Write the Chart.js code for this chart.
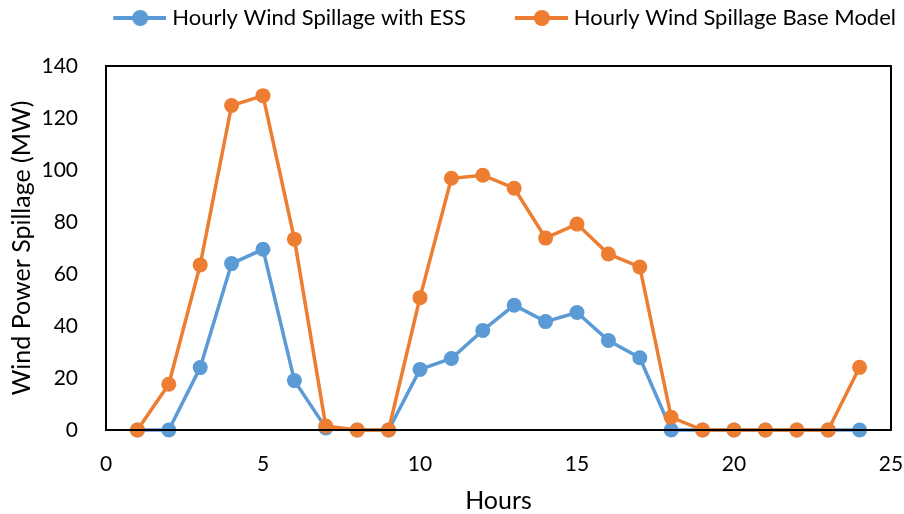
<!DOCTYPE html>
<html>
<head>
<meta charset="utf-8">
<script src="https://cdn.jsdelivr.net/npm/chart.js@4.4.1/dist/chart.umd.min.js"></script>
<style>
  html, body { margin: 0; padding: 0; background: #fff; }
  #wrap { width: 904px; height: 514px; }
</style>
</head>
<body>
<div id="wrap"><canvas id="spill-chart" width="904" height="514"></canvas></div>
<script>
const hours = [1, 2, 3, 4, 5, 6, 7, 8, 9, 10, 11, 12, 13, 14, 15, 16, 17, 18, 19, 20, 21, 22, 23, 24];
const withEss = [0, 0, 24, 64, 69.5, 19, 0.8, 0, 0, 23.3, 27.5, 38.3, 48, 41.7, 45.2, 34.4, 27.8, 0, 0, 0, 0, 0, 0, 0];
const baseModel = [0, 17.6, 63.5, 124.8, 128.6, 73.4, 1.5, 0, 0, 50.9, 96.8, 98, 93, 73.8, 79.2, 67.7, 62.7, 4.9, 0, 0, 0, 0, 0, 24.1];
const xTicks = [0, 5, 10, 15, 20, 25];
const yTicks = [0, 20, 40, 60, 80, 100, 120, 140];

const BLUE = '#5B9BD5';
const ORANGE = '#ED7D31';
const FONT = 'Lato';
const LEGEND_SIZE = 22;
const BOX = 90;

// legend swatch: line with a dot, sitting at the right end of the box so the
// text follows closely and the gap before the next entry stays wide
function swatch(color) {
    var c = document.createElement('canvas');
    c.width = BOX + 10;
    c.height = 20;
    var ctx = c.getContext('2d');
    var x1 = c.width - 53;
    ctx.strokeStyle = color;
    ctx.lineWidth = 4;
    ctx.beginPath();
    ctx.moveTo(x1, 10);
    ctx.lineTo(c.width, 10);
    ctx.stroke();
    ctx.fillStyle = color;
    ctx.beginPath();
    ctx.arc(x1 + 27, 10, 8, 0, Math.PI * 2);
    ctx.fill();
    return c;
}

const frame = {
    id: 'frame',
    beforeLayout(chart) {
        // leave room between legend and plot like the original
        const lg = chart.legend;
        if (lg && !lg._padded) {
            const fit = lg.fit;
            lg.fit = function () { fit.call(this); this.height += 27; };
            lg._padded = true;
        }
    },
    afterDatasetsDraw(chart) {
        const a = chart.chartArea;
        const ctx = chart.ctx;
        ctx.save();
        ctx.strokeStyle = '#000';
        ctx.lineWidth = 2;
        ctx.strokeRect(a.left, a.top, a.right - a.left, a.bottom - a.top);
        ctx.restore();
    }
};

function series(values) {
    return hours.map((h, i) => ({ x: h, y: values[i] }));
}

new Chart(document.getElementById('spill-chart').getContext('2d'), {
    type: 'line',
    data: {
        datasets: [{
            label: 'Hourly Wind Spillage with ESS',
            data: series(withEss),
            borderColor: BLUE,
            backgroundColor: BLUE,
            borderWidth: 3.5,
            pointRadius: 7.5,
            pointHoverRadius: 7.5,
            pointBorderWidth: 0,
            tension: 0,
            clip: false,
            order: 1
        }, {
            label: 'Hourly Wind Spillage Base Model',
            data: series(baseModel),
            borderColor: ORANGE,
            backgroundColor: ORANGE,
            borderWidth: 3.5,
            pointRadius: 7.5,
            pointHoverRadius: 7.5,
            pointBorderWidth: 0,
            tension: 0,
            clip: false,
            order: 0
        }]
    },
    options: {
        responsive: false,
        animation: false,
        layout: { padding: { left: 3, right: 1, top: 0, bottom: 0 } },
        plugins: {
            tooltip: { enabled: false },
            legend: {
                position: 'top',
                align: 'end',
                labels: {
                    color: '#000',
                    font: { family: FONT, size: LEGEND_SIZE },
                    usePointStyle: true,
                    pointStyleWidth: BOX,
                    padding: 7,
                    generateLabels(chart) {
                        return chart.data.datasets.map((ds, i) => ({
                            text: ds.label,
                            fillStyle: ds.borderColor,
                            strokeStyle: ds.borderColor,
                            pointStyle: swatch(ds.borderColor),
                            lineWidth: 0,
                            datasetIndex: i,
                            fontColor: '#000'
                        }));
                    }
                }
            }
        },
        scales: {
            x: {
                type: 'linear',
                min: 0,
                max: 25,
                afterBuildTicks: s => { s.ticks = xTicks.map(v => ({ value: v })); },
                grid: { display: false },
                border: { display: false },
                ticks: { color: '#000', font: { family: FONT, size: 21 }, padding: 14 },
                title: { display: true, text: 'Hours', color: '#000', font: { family: FONT, size: 25 }, padding: { top: 16, bottom: -2 } },
                afterFit: s => { s.height = 84; s.paddingRight = 13; s.paddingLeft = 0; }
            },
            y: {
                min: 0,
                max: 140,
                afterBuildTicks: s => { s.ticks = yTicks.map(v => ({ value: v })); },
                grid: { display: false },
                border: { display: false },
                ticks: { color: '#000', font: { family: FONT, size: 21 }, padding: 20 },
                title: { display: true, text: 'Wind Power Spillage (MW)', color: '#000', font: { family: FONT, size: 25 }, padding: { bottom: 4 } },
                afterFit: s => { s.width = 103; }
            }
        }
    },
    plugins: [frame]
});
</script>
</body>
</html>
